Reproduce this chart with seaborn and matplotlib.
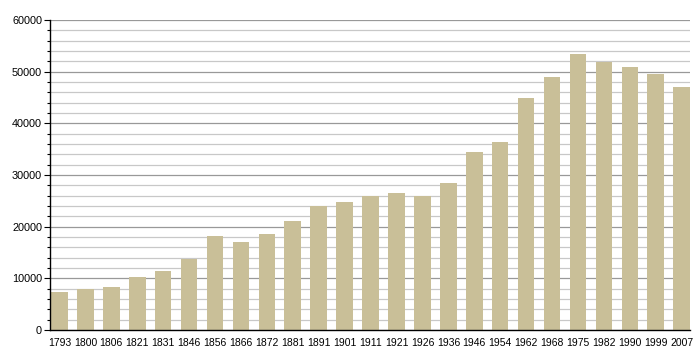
import pandas as pd
import matplotlib
matplotlib.use("Agg")
import matplotlib.pyplot as plt
from matplotlib.ticker import MultipleLocator
import seaborn as sns

years = ["1793", "1800", "1806", "1821", "1831", "1846", "1856", "1866", "1872",
         "1881", "1891", "1901", "1911", "1921", "1926", "1936", "1946", "1954",
         "1962", "1968", "1975", "1982", "1990", "1999", "2007"]
population = [7400, 7900, 8300, 10300, 11400, 13700, 18200, 17000, 18600,
              21100, 24000, 24800, 25900, 26500, 25900, 28500, 34500, 36400,
              45000, 49000, 53400, 51900, 50900, 49600, 47100]

data = pd.DataFrame({"year": years, "population": population})

sns.set_style("white")
plt.rcParams["font.family"] = ["Liberation Sans", "DejaVu Sans"]

fig = plt.figure(figsize=(7, 3.6), dpi=100)
ax = fig.add_axes([0.072, 0.083, 0.914, 0.861])

sns.barplot(data=data, x="year", y="population", color="#c9bf98",
            saturation=1, width=0.64, linewidth=0, ax=ax)

# bars above the grid
for bar in ax.patches:
    bar.set_zorder(3)

ax.set_ylim(0, 60000)
ax.set_xlim(-0.35, 24.33)
ax.yaxis.set_major_locator(MultipleLocator(10000))
ax.yaxis.set_minor_locator(MultipleLocator(2000))
ax.grid(axis="y", which="minor", color="#c8c8c8", linewidth=0.9, zorder=0)
ax.grid(axis="y", which="major", color="#999999", linewidth=0.9, zorder=0)
ax.set_axisbelow(True)

for side in ["top", "right"]:
    ax.spines[side].set_visible(False)
for side in ["left", "bottom"]:
    ax.spines[side].set_color("black")
    ax.spines[side].set_linewidth(1)
    ax.spines[side].set_zorder(4)

ax.tick_params(axis="y", which="major", left=True, length=4, width=0.8,
               labelsize=7.8, pad=2, color="black", labelcolor="black")
ax.tick_params(axis="y", which="minor", left=True, length=2.5, width=0.8,
               color="black")
ax.tick_params(axis="x", bottom=False, labelsize=7.5, pad=2, labelcolor="black")
ax.set_xlabel("")
ax.set_ylabel("")

fig.savefig("out.png", dpi=100)
